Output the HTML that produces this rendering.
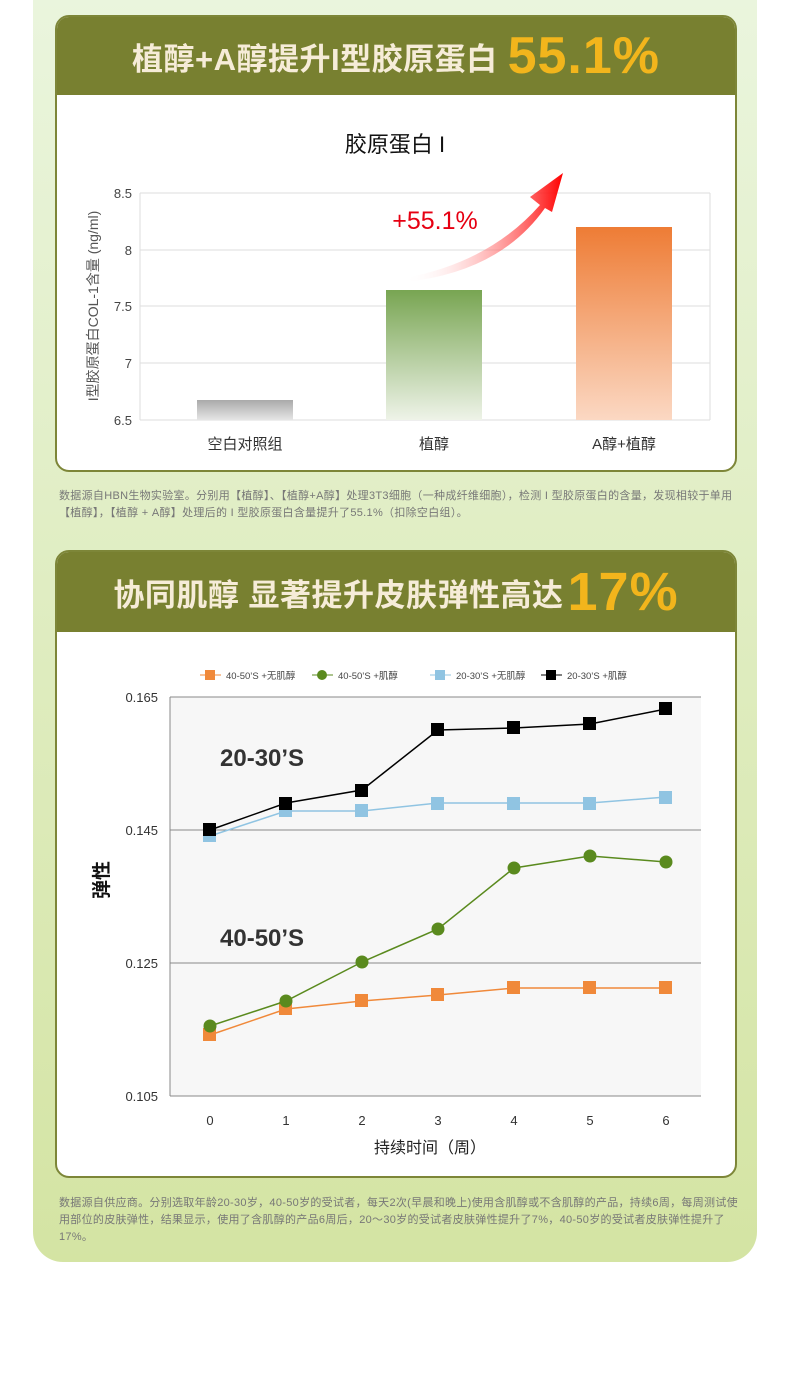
<!DOCTYPE html>
<html><head><meta charset="utf-8"><style>
body{margin:0;width:790px;height:1381px;background:#fff;font-family:"Liberation Sans","Noto Sans CJK SC",sans-serif;position:relative;overflow:hidden}
.bg{position:absolute;left:33px;top:0;width:724px;height:1262px;background:linear-gradient(#eaf5dd,#d4e4a3);border-radius:0 0 30px 30px}
.card{position:absolute;left:55px;width:678px;background:#fff;border:2px solid #7d8638;border-radius:14px;overflow:hidden}
.hd{background:#788030;height:78px;color:#f6ecd8;font-weight:bold;font-size:31px;letter-spacing:0.5px;display:flex;align-items:center;justify-content:center}
.hd b{color:#f2b51c;font-size:52px;margin-left:10px;letter-spacing:1px}
.note{position:absolute;left:59px;width:684px;font-size:11px;letter-spacing:0.3px;color:#777;line-height:17px}
</style></head><body>
<div class="bg"></div>
<div class="card" style="top:15px;height:453px"><div class="hd">植醇+A醇提升I型胶原蛋白<b>55.1%</b></div></div>
<svg style="position:absolute;left:0;top:0" width="790" height="480">
<defs>
<linearGradient id="g1" x1="0" y1="0" x2="0" y2="1"><stop offset="0" stop-color="#aaa"/><stop offset="1" stop-color="#e6e6e6"/></linearGradient>
<linearGradient id="g2" x1="0" y1="0" x2="0" y2="1"><stop offset="0" stop-color="#78a552"/><stop offset="1" stop-color="#eef3e8"/></linearGradient>
<linearGradient id="g3" x1="0" y1="0" x2="0" y2="1"><stop offset="0" stop-color="#ee7c35"/><stop offset="1" stop-color="#fbd8c3"/></linearGradient>
<linearGradient id="ar" x1="0" y1="0" x2="1" y2="0"><stop offset="0" stop-color="#fff" stop-opacity="0"/><stop offset="1" stop-color="#f00"/></linearGradient>
</defs>
<text x="395" y="152" font-size="22" text-anchor="middle" fill="#111">胶原蛋白 I</text>
<g stroke="#ddd"><line x1="140" y1="193" x2="710" y2="193"/><line x1="140" y1="250" x2="710" y2="250"/><line x1="140" y1="306" x2="710" y2="306"/><line x1="140" y1="363" x2="710" y2="363"/><line x1="140" y1="420" x2="710" y2="420"/><line x1="140" y1="193" x2="140" y2="420"/><line x1="710" y1="193" x2="710" y2="420"/></g>
<g font-size="13" fill="#444" text-anchor="end"><text x="132" y="198">8.5</text><text x="132" y="255">8</text><text x="132" y="311">7.5</text><text x="132" y="368">7</text><text x="132" y="425">6.5</text></g>
<text transform="translate(98,306) rotate(-90)" font-size="14" fill="#555" text-anchor="middle">I型胶原蛋白COL-1含量 (ng/ml)</text>
<rect x="197" y="400" width="96" height="20" fill="url(#g1)"/>
<rect x="386" y="290" width="96" height="130" fill="url(#g2)"/>
<rect x="576" y="227" width="96" height="193" fill="url(#g3)"/>
<g font-size="15" fill="#333" text-anchor="middle"><text x="245" y="449">空白对照组</text><text x="434" y="449">植醇</text><text x="624" y="449">A醇+植醇</text></g>
<text x="435" y="229" font-size="25" fill="#e60012" text-anchor="middle">+55.1%</text>
<path d="M405,278 Q490,262 540,205 L530,197 L563,173 L552,212 L545,208 Q500,272 405,282 Z" fill="url(#ar)"/>
</svg>
<div class="note" style="top:488px">数据源自HBN生物实验室。分别用【植醇】、【植醇+A醇】处理3T3细胞（一种成纤维细胞），检测 I 型胶原蛋白的含量，发现相较于单用【植醇】，【植醇 + A醇】处理后的 I 型胶原蛋白含量提升了55.1%（扣除空白组）。</div>
<div class="card" style="top:550px;height:624px"><div class="hd" style="font-size:31px;height:80px">协同肌醇 显著提升皮肤弹性高达<b style="font-size:54px;margin-left:4px">17%</b></div></div>
<svg style="position:absolute;left:0;top:640px" width="790" height="530" viewBox="0 640 790 530">
<rect x="170" y="697" width="531" height="399" fill="#f7f7f7"/>
<g stroke="#888"><line x1="170" y1="697" x2="701" y2="697"/><line x1="170" y1="830" x2="701" y2="830"/><line x1="170" y1="963" x2="701" y2="963"/><line x1="170" y1="1096" x2="701" y2="1096"/><line x1="170" y1="697" x2="170" y2="1096"/></g>
<g font-size="13" fill="#333" text-anchor="end"><text x="158" y="702">0.165</text><text x="158" y="835">0.145</text><text x="158" y="968">0.125</text><text x="158" y="1101">0.105</text></g>
<g font-size="13" fill="#333" text-anchor="middle"><text x="210" y="1125">0</text><text x="286" y="1125">1</text><text x="362" y="1125">2</text><text x="438" y="1125">3</text><text x="514" y="1125">4</text><text x="590" y="1125">5</text><text x="666" y="1125">6</text></g>
<text x="430" y="1153" font-size="16" fill="#222" text-anchor="middle">持续时间（周）</text>
<text transform="translate(108,880) rotate(-90)" font-size="19" font-weight="bold" fill="#111" text-anchor="middle">弹性</text>
<text x="220" y="766" font-size="24" font-weight="bold" fill="#333">20-30’S</text>
<text x="220" y="946" font-size="24" font-weight="bold" fill="#333">40-50’S</text>
<polyline fill="none" stroke="#f0893a" stroke-width="1.5" points="210,1035 286,1009 362,1001 438,995 514,988 590,988 666,988"/>
<g fill="#f0893a"><rect x="203" y="1028" width="13" height="13"/><rect x="279" y="1002" width="13" height="13"/><rect x="355" y="994" width="13" height="13"/><rect x="431" y="988" width="13" height="13"/><rect x="507" y="981" width="13" height="13"/><rect x="583" y="981" width="13" height="13"/><rect x="659" y="981" width="13" height="13"/></g>
<polyline fill="none" stroke="#5a8a1e" stroke-width="1.5" points="210,1026 286,1001 362,962 438,929 514,868 590,856 666,862"/>
<g fill="#5a8a1e"><circle cx="210" cy="1026" r="6.5"/><circle cx="286" cy="1001" r="6.5"/><circle cx="362" cy="962" r="6.5"/><circle cx="438" cy="929" r="6.5"/><circle cx="514" cy="868" r="6.5"/><circle cx="590" cy="856" r="6.5"/><circle cx="666" cy="862" r="6.5"/></g>
<polyline fill="none" stroke="#90c4e2" stroke-width="1.5" points="210,836 286,811 362,811 438,803 514,803 590,803 666,797"/>
<g fill="#90c4e2"><rect x="203" y="829" width="13" height="13"/><rect x="279" y="804" width="13" height="13"/><rect x="355" y="804" width="13" height="13"/><rect x="431" y="797" width="13" height="13"/><rect x="507" y="797" width="13" height="13"/><rect x="583" y="797" width="13" height="13"/><rect x="659" y="791" width="13" height="13"/></g>
<polyline fill="none" stroke="#000" stroke-width="1.5" points="210,830 286,803 362,790 438,730 514,728 590,724 666,709"/>
<g fill="#000"><rect x="203" y="823" width="13" height="13"/><rect x="279" y="797" width="13" height="13"/><rect x="355" y="784" width="13" height="13"/><rect x="431" y="723" width="13" height="13"/><rect x="507" y="721" width="13" height="13"/><rect x="583" y="717" width="13" height="13"/><rect x="659" y="702" width="13" height="13"/></g>
<g font-size="9.5" fill="#444">
<line x1="200" y1="675" x2="221" y2="675" stroke="#f0893a"/><rect x="205" y="670" width="10" height="10" fill="#f0893a"/><text x="226" y="679">40-50’S +无肌醇</text>
<line x1="312" y1="675" x2="333" y2="675" stroke="#5a8a1e"/><circle cx="322" cy="675" r="5" fill="#5a8a1e"/><text x="338" y="679">40-50’S +肌醇</text>
<line x1="430" y1="675" x2="451" y2="675" stroke="#90c4e2"/><rect x="435" y="670" width="10" height="10" fill="#90c4e2"/><text x="456" y="679">20-30’S +无肌醇</text>
<line x1="541" y1="675" x2="562" y2="675" stroke="#000"/><rect x="546" y="670" width="10" height="10" fill="#000"/><text x="567" y="679">20-30’S +肌醇</text>
</g>
</svg>
<div class="note" style="top:1195px">数据源自供应商。分别选取年龄20-30岁，40-50岁的受试者，每天2次(早晨和晚上)使用含肌醇或不含肌醇的产品，持续6周，每周测试使用部位的皮肤弹性，结果显示，使用了含肌醇的产品6周后，20～30岁的受试者皮肤弹性提升了7%，40-50岁的受试者皮肤弹性提升了17%。</div>
</body></html>
